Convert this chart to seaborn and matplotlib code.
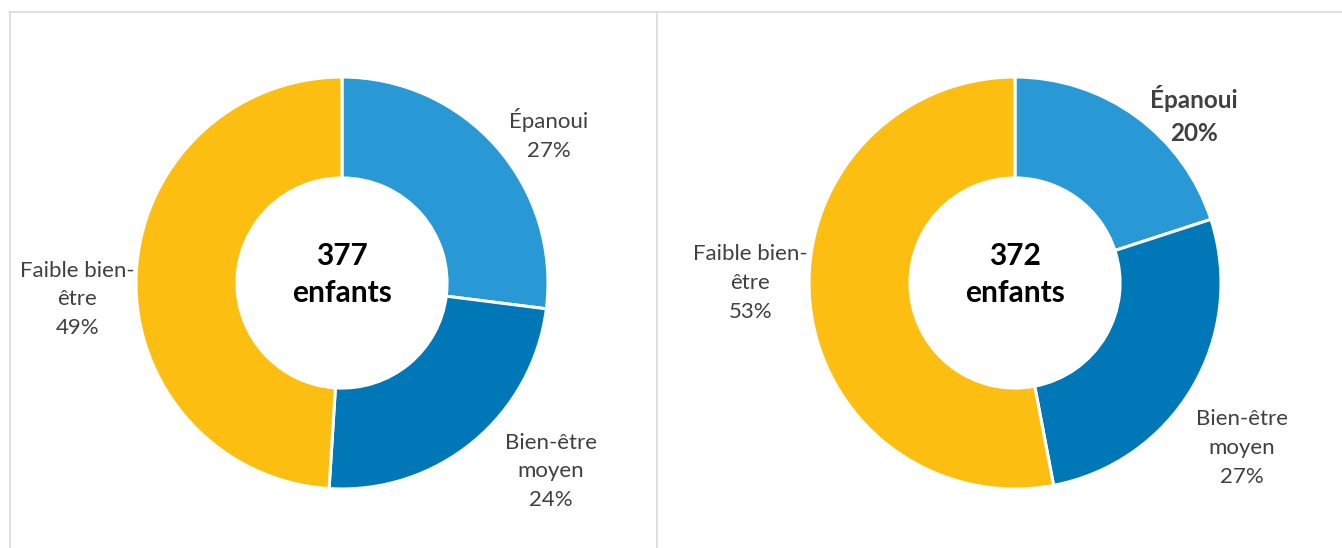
import matplotlib
matplotlib.use("Agg")
import matplotlib.pyplot as plt
import seaborn as sns
from matplotlib.lines import Line2D

sns.set_theme(style="white")
plt.rcParams['font.family'] = ['Lato', 'DejaVu Sans']

categories = ["Épanoui", "Bien-être moyen", "Faible bien-être"]
label_texts = ["Épanoui", "Bien-être\nmoyen", "Faible bien-\nêtre"]
left_values = [27, 24, 49]
right_values = [20, 27, 53]
left_total = 377
right_total = 372
colors = ["#2899D5", "#0077B6", "#FDBE12"]

W, H = 1342, 548
fig = plt.figure(figsize=(W / 100, H / 100), dpi=100)

R = 206
def make_ax(cx, cy):
    return fig.add_axes([(cx - R) / W, (H - cy - R) / H, 2 * R / W, 2 * R / H])

ax1 = make_ax(342, 283)
ax2 = make_ax(1015, 283)

label_pos_left = [(1.005, 0.72), (1.015, -0.915), (-1.285, -0.08)]
label_pos_right = [(0.87, 0.815), (1.10, -0.80), (-1.285, 0.0)]

def donut(ax, values, total, label_pos, bold_first):
    ax.pie(values, colors=colors, startangle=90, counterclock=False, radius=1,
           wedgeprops=dict(width=0.49, edgecolor="white", linewidth=2.2))
    ax.set_xlim(-1, 1)
    ax.set_ylim(-1, 1)
    ax.set_aspect("equal")
    ax.axis("off")
    for i, (txt, v) in enumerate(zip(label_texts, values)):
        bold = bold_first and i == 0
        ax.text(label_pos[i][0], label_pos[i][1], f"{txt}\n{v}%", ha="center", va="center",
                fontsize=17.5 if bold else 16, color="#404040",
                fontweight="bold" if bold else "normal", linespacing=1.5 if bold else 1.55,
                clip_on=False)
    ax.text(0, 0.04, f"{total}\nenfants", ha="center", va="center", fontsize=21.5,
            fontweight="bold", color="black", linespacing=1.38)

donut(ax1, left_values, left_total, label_pos_left, False)
donut(ax2, right_values, right_total, label_pos_right, True)

# frame lines
fc = "#D9D9D9"
fig.add_artist(Line2D([9 / W, 1], [1 - 12 / H, 1 - 12 / H], color=fc, lw=1.2, transform=fig.transFigure))
fig.add_artist(Line2D([9.5 / W, 9.5 / W], [0, 1 - 12 / H], color=fc, lw=1.2, transform=fig.transFigure))
fig.add_artist(Line2D([657 / W, 657 / W], [0, 1 - 12 / H], color=fc, lw=1.2, transform=fig.transFigure))

fig.savefig("out.png", dpi=100, facecolor="white")
